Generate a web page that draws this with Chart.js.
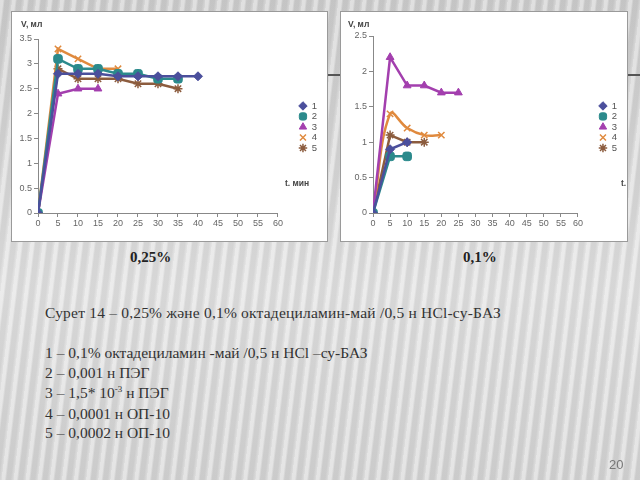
<!DOCTYPE html>
<html>
<head>
<meta charset="utf-8">
<script src="https://cdn.jsdelivr.net/npm/chart.js@4/dist/chart.umd.min.js"></script>
<style>
  html, body { margin: 0; padding: 0; }
  body {
    width: 640px; height: 480px; overflow: hidden; position: relative;
    background-color: #d4d4d4;
    background-image:
      repeating-linear-gradient(97deg, rgba(255,255,255,0.35) 0px, rgba(255,255,255,0.35) 3px, rgba(0,0,0,0.05) 5px, rgba(0,0,0,0.05) 9px, rgba(255,255,255,0.15) 12px),
      linear-gradient(180deg, #cfcfcf 0%, #e2e2e2 60%, #d6d6d6 100%);
  }
  .rule { position: absolute; left: 326px; top: 74px; width: 314px; height: 2px; background: #555; }
  .panel { position: absolute; background: #fff; border: 1px solid #9a9a9a; overflow: hidden; }
  .panel canvas { position: absolute; left: 0; top: 0; }
  .ax { position: absolute; font: bold 8.5px "Liberation Sans", Arial, sans-serif; color: #444; white-space: nowrap; }
  .pct { position: absolute; font: bold 15px "Liberation Serif", "Times New Roman", serif; color: #222; }
  .cap { position: absolute; left: 45px; font: 15.5px "Liberation Serif", "Times New Roman", serif; color: #333; white-space: nowrap; }
  .page { position: absolute; left: 609px; top: 457px; font: 13px "Liberation Sans", Arial, sans-serif; color: #777; }
</style>
</head>
<body>
<div class="rule"></div>

<div class="panel" style="left:11px; top:11px; width:315px; height:229px;">
  <canvas id="c1" width="315" height="229"></canvas>
  <div class="ax" style="left:9px; top:7px;">V, мл</div>
  <div class="ax" style="left:273px; top:166px;">t. мин</div>
</div>

<div class="panel" style="left:340px; top:11px; width:286px; height:229px;">
  <canvas id="c2" width="286" height="229"></canvas>
  <div class="ax" style="left:7px; top:7px;">V, мл</div>
  <div class="ax" style="left:280px; top:166px;">t. мин</div>
</div>

<div class="pct" style="left:130px; top:249px;">0,25%</div>
<div class="pct" style="left:463px; top:249px;">0,1%</div>

<div class="cap" style="top:304px; letter-spacing:0.2px;">Сурет 14 – 0,25% және 0,1% октадециламин-май /0,5 н HCl-су-БАЗ</div>
<div class="cap" style="top:344px;">1 – 0,1% октадециламин -май /0,5 н HCl –су-БАЗ</div>
<div class="cap" style="top:364px;">2 – 0,001 н ПЭГ</div>
<div class="cap" style="top:384px;">3 – 1,5* 10<sup style="font-size:9px">-3</sup> н ПЭГ</div>
<div class="cap" style="top:405px;">4 – 0,0001 н ОП-10</div>
<div class="cap" style="top:424px;">5 – 0,0002 н ОП-10</div>
<div class="page">20</div>

<script>
// time, min
const minutes = [0, 5, 10, 15, 20, 25, 30, 35, 40];
const seriesNames = ['1', '2', '3', '4', '5'];
const seriesColors = ['#4b4f9c', '#2b8a8c', '#a33fae', '#e08a3e', '#8c5c3e'];
const seriesMarkers = ['rectRot', 'rectRounded', 'triangle', 'crossRot', 'star'];

// 0,25%
const left1 = [0, 2.8, 2.8, 2.8, 2.75, 2.75, 2.75, 2.75, 2.75];
const left2 = [0, 3.1, 2.9, 2.9, 2.8, 2.8, 2.7, 2.7];
const left3 = [0, 2.4, 2.5, 2.5];
const left4 = [0, 3.3, 3.1, 2.9, 2.9];
const left5 = [0, 2.9, 2.7, 2.7, 2.7, 2.6, 2.6, 2.5];

// 0,1%
const right1 = [0, 0.9, 1.0];
const right2 = [0, 0.8, 0.8];
const right3 = [0, 2.2, 1.8, 1.8, 1.7, 1.7];
const right4 = [0, 1.4, 1.2, 1.1, 1.1];
const right5 = [0, 1.1, 1.0, 1.0];

const xTicks = [0, 5, 10, 15, 20, 25, 30, 35, 40, 45, 50, 55, 60];

function makeSets(list, curved) {
    return list.map(function (vals, i) {
        return {
            label: seriesNames[i],
            data: vals.map(function (v, k) { return { x: minutes[k], y: v }; }),
            borderColor: seriesColors[i],
            backgroundColor: seriesColors[i],
            pointStyle: seriesMarkers[i],
            pointRadius: i === 1 ? 5 : 4.5,
            pointBorderWidth: i >= 3 ? 1.5 : 1,
            borderWidth: 2.5,
            tension: curved && i === 3 ? 0.4 : 0
        };
    });
}

// blank legend title is used only to push the items down to mid-plot
function draw(id, sets, yMax, yW, top, legendDrop, gap) {
    new Chart(document.getElementById(id), {
        type: 'line',
        data: { datasets: sets },
        options: {
            responsive: false,
            animation: false,
            layout: { padding: { top: top, right: 0, left: 2, bottom: 2 } },
            plugins: {
                tooltip: { enabled: false },
                legend: {
                    position: 'right',
                    align: 'start',
                    title: { display: true, text: ' ', font: { size: 1 }, padding: { top: legendDrop, bottom: 0 } },
                    labels: {
                        usePointStyle: true,
                        boxWidth: 8,
                        boxHeight: 6,
                        padding: 1,
                        color: '#555',
                        font: { size: 9.5, family: 'Liberation Sans, Arial, sans-serif' }
                    }
                }
            },
            scales: {
                x: {
                    type: 'linear', min: 0, max: 60,
                    afterBuildTicks: function (s) { s.ticks = xTicks.map(function (v) { return { value: v }; }); },
                    afterFit: function (s) { s.height = 26; },
                    grid: { drawOnChartArea: false, tickLength: 4, color: '#888' },
                    border: { color: '#888' },
                    ticks: { color: '#666', padding: 1, maxRotation: 0, font: { size: 9, family: 'Liberation Sans, Arial, sans-serif' } }
                },
                y: {
                    min: 0, max: yMax,
                    afterFit: function (s) { s.width = yW; },
                    grid: { drawOnChartArea: false, tickLength: 4, color: '#888' },
                    border: { color: '#888' },
                    ticks: {
                        stepSize: 0.5, color: '#666', padding: 2,
                        callback: function (v) { return String(v); },
                        font: { size: 9, family: 'Liberation Sans, Arial, sans-serif' }
                    }
                },
                // empty spacer between plot and legend
                gap: {
                    position: 'right', display: true, min: 0, max: 1,
                    afterFit: function (s) { s.width = gap; },
                    grid: { display: false },
                    border: { display: false },
                    ticks: { display: false }
                }
            }
        }
    });
}

draw('c1', makeSets([left1, left2, left3, left4, left5], false), 3.5, 24, 27, 60, 20);
draw('c2', makeSets([right1, right2, right3, right4, right5], true), 2.5, 30, 24, 63, 20);
</script>
</body>
</html>
